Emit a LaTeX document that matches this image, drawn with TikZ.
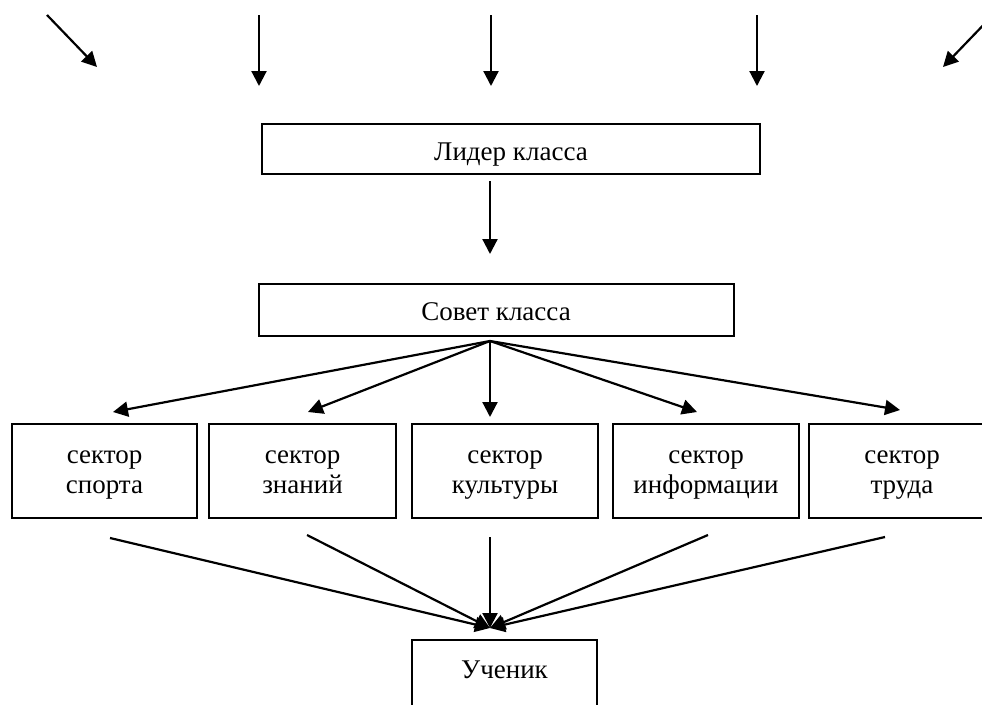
\documentclass[tikz,border=0pt]{standalone}
\usepackage{fontspec}
\setmainfont{Liberation Serif}
\usetikzlibrary{arrows.meta}
\begin{document}
\begin{tikzpicture}[x=1pt,y=-1pt,
  box/.style={draw, line width=2pt, inner sep=0pt, font=\fontsize{27}{30}\selectfont, align=center},
  sector/.style={box, minimum width=186pt, text height=69pt, text depth=25pt},
  arr/.style={line width=2.2pt, -{Triangle[length=15pt,width=15pt]}}]
\useasboundingbox (0,0) rectangle (982,704);
\fill[white] (0,0) rectangle (982,704);
% boxes
\node[box, minimum width=498pt, text height=36pt, text depth=14pt, anchor=north] (lider) at (511,123) {Лидер класса};
\node[box, minimum width=475pt, text height=36pt, text depth=16pt, anchor=north] (sovet) at (496,283) {Совет класса};
\node[sector, minimum width=185pt, anchor=north] (s1) at (104.5,423) {сектор\\спорта};
\node[sector, minimum width=187pt, anchor=north] (s2) at (302.5,423) {сектор\\знаний};
\node[sector, anchor=north] (s3) at (505,423) {сектор\\культуры};
\node[sector, anchor=north] (s4) at (706,423) {сектор\\информации};
\node[sector, anchor=north] (s5) at (902,423) {сектор\\труда};
\node[box, minimum width=185pt, text height=38pt, text depth=38pt, anchor=north] (uch) at (504.5,639) {Ученик};
% top free arrows
\coordinate (a1s) at (47,15);  \coordinate (a1e) at (97,67);
\coordinate (a2s) at (259,15); \coordinate (a2e) at (259,86);
\coordinate (a3s) at (491,15); \coordinate (a3e) at (491,86);
\coordinate (a4s) at (757,15); \coordinate (a4e) at (757,86);
\coordinate (a5s) at (993,15); \coordinate (a5e) at (943,67);
\foreach \i in {1,...,5} \draw[arr] (a\i s) -- (a\i e);
% lider -> sovet
\coordinate (l1) at (490,181); \coordinate (l2) at (490,254);
\draw[arr] (l1) -- (l2);
% sovet -> sectors
\coordinate (so) at (490,341);
\coordinate (t1) at (113,412);
\coordinate (t2) at (308,412);
\coordinate (t3) at (490,417);
\coordinate (t4) at (697,412);
\coordinate (t5) at (900,410);
\foreach \i in {1,...,5} \draw[arr] (so) -- (t\i);
% sectors -> student
\coordinate (b1) at (110,538);
\coordinate (b2) at (307,535);
\coordinate (b3) at (490,537);
\coordinate (b4) at (708,535);
\coordinate (b5) at (885,537);
\coordinate (ui) at (490,628);
\foreach \i in {1,...,5} \draw[arr] (b\i) -- (ui);
\end{tikzpicture}
\end{document}
